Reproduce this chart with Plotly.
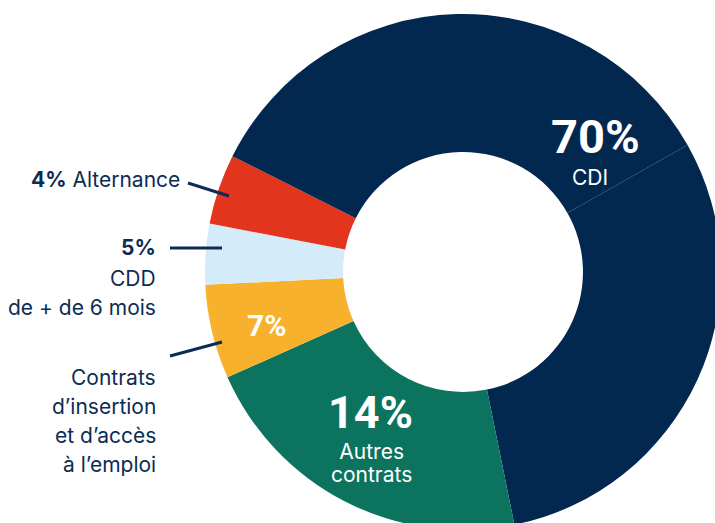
import plotly.graph_objects as go

# slices in drawing order (clockwise from the thin line in the CDI block)
slice_names = ["CDI (a)", "Autres contrats", "Contrats d'insertion", "CDD + 6 mois", "Alternance", "CDI (b)"]
slice_values = [30.0, 21.5, 5.9, 3.8, 4.4, 34.4]
slice_colors = ["#03284F", "#0B735E", "#F8B12C", "#D4EBF9", "#E3341E", "#03284F"]

W, H = 740, 544
NAVY = "#0D2C54"


def px(x):
    return x / W


def py(y):
    return 1 - y / H


fig = go.Figure()
fig.add_trace(go.Pie(
    labels=slice_names,
    values=slice_values,
    marker=dict(colors=slice_colors, line=dict(width=0)),
    hole=0.465,
    sort=False,
    direction="clockwise",
    rotation=60.5,
    textinfo="none",
    hoverinfo="label+percent",
    showlegend=False,
    domain=dict(x=[205 / W, 721 / W], y=[0, 1]),
))

# labels inside the ring: (text, x, y, size, bold)
inner_labels = [
    ("70%", 595, 136, 47, True),
    ("CDI", 590, 178, 21, False),
    ("14%", 370, 412, 45, True),
    ("7%", 266, 325, 30, True),
]
for txt, x, y, size, bold in inner_labels:
    fig.add_annotation(
        x=px(x), y=py(y), xref="paper", yref="paper",
        text=f"<b>{txt}</b>" if bold else txt,
        showarrow=False, xanchor="center", yanchor="middle",
        font=dict(family="Roboto" if bold else "Inter", size=size, color="white"),
    )
fig.add_annotation(
    x=px(371), y=py(463), xref="paper", yref="paper",
    text="<span style='font-size:21px'>Autres</span><br><span style='font-size:21px'>contrats</span>",
    showarrow=False, xanchor="center", yanchor="middle",
    font=dict(family="Inter", size=18, color="white"),
)

# labels outside, on the left
outer_labels = [
    ("<b>4%</b> Alternance", 182, 180),
    ("<b>5%</b>", 158, 248),
    ("CDD", 158, 278),
    ("de + de 6 mois", 158, 307),
    ("Contrats", 158, 377),
    ("d’insertion", 158, 406),
    ("et d’accès", 158, 435),
    ("à l’emploi", 158, 464),
]
for txt, x, y in outer_labels:
    fig.add_annotation(
        x=px(x), y=py(y), xref="paper", yref="paper",
        text=txt, showarrow=False, xanchor="right", yanchor="middle",
        font=dict(family="Inter", size=21, color=NAVY),
    )

leaders = [((188, 183), (229, 196)), ((170, 248), (222, 248)), ((170, 356), (222, 342))]
for (x0, y0), (x1, y1) in leaders:
    fig.add_shape(type="line", xref="paper", yref="paper",
                  x0=px(x0), y0=py(y0), x1=px(x1), y1=py(y1),
                  line=dict(color=NAVY, width=3))

fig.update_layout(
    width=W, height=H,
    margin=dict(l=0, r=0, t=0, b=0),
    paper_bgcolor="white",
    plot_bgcolor="white",
)

fig.write_html(
    "out.html",
    config={"displayModeBar": False},
    post_script="document.body.style.margin='0';"
                "document.body.style.overflow='hidden';"
                "document.documentElement.style.overflow='hidden';",
)
